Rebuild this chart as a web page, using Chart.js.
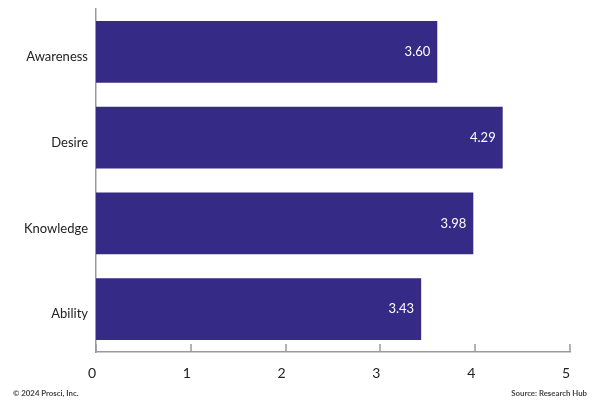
<!DOCTYPE html>
<html>
<head>
<meta charset="utf-8">
<script src="https://cdn.jsdelivr.net/npm/chart.js@4"></script>
<style>
  html, body { margin: 0; padding: 0; background: #fff; }
  #wrap { position: relative; width: 600px; height: 409px; }
</style>
</head>
<body>
<div id="wrap"><canvas id="chart" width="600" height="409"></canvas></div>
<script>
const CATEGORIES = ['Awareness', 'Desire', 'Knowledge', 'Ability'];
const SCORES = [3.60, 4.29, 3.98, 3.43];
const X_TICKS = [0, 1, 2, 3, 4, 5];

const BAR_COLOR = '#352a85';
const AXIS_COLOR = '#9a9a9a';
const FONT = 'Lato, "Open Sans", sans-serif';

const valueLabels = {
  id: 'valueLabels',
  afterDatasetsDraw(chart) {
    const ctx = chart.ctx;
    const meta = chart.getDatasetMeta(0);
    ctx.save();
    ctx.fillStyle = '#ffffff';
    ctx.font = `13px ${FONT}`;
    ctx.textAlign = 'right';
    ctx.textBaseline = 'middle';
    meta.data.forEach((bar, i) => {
      ctx.fillText(SCORES[i].toFixed(2), bar.x - 7, bar.y);
    });
    ctx.restore();
  },
};

const axisTicks = {
  id: 'axisTicks',
  afterDraw(chart) {
    const ctx = chart.ctx;
    const xScale = chart.scales.x;
    const bottom = chart.chartArea.bottom;
    ctx.save();
    ctx.strokeStyle = AXIS_COLOR;
    ctx.lineWidth = 1.5;
    X_TICKS.forEach(value => {
      const x = Math.round(xScale.getPixelForValue(value));
      ctx.beginPath();
      ctx.moveTo(x, bottom - 8);
      ctx.lineTo(x, bottom);
      ctx.stroke();
    });

    ctx.fillStyle = '#444';
    ctx.font = `bold 7.8px ${FONT}`;
    ctx.textBaseline = 'middle';
    ctx.textAlign = 'left';
    ctx.fillText('© 2024 Prosci, Inc.', 13, 393);
    ctx.textAlign = 'right';
    ctx.fillText('Source: Research Hub', 587, 393);
    ctx.restore();
  },
};

new Chart(document.getElementById('chart'), {
  type: 'bar',
  data: {
    labels: CATEGORIES,
    datasets: [{
      data: SCORES,
      backgroundColor: BAR_COLOR,
      borderWidth: 0,
      categoryPercentage: 1,
      barPercentage: 0.72,
    }],
  },
  options: {
    indexAxis: 'y',
    responsive: false,
    animation: false,
    layout: { padding: { top: 9, right: 30, bottom: 0, left: 0 } },
    plugins: { legend: { display: false }, tooltip: { enabled: false } },
    scales: {
      x: {
        min: 0,
        max: 5,
        afterBuildTicks: scale => { scale.ticks = X_TICKS.map(value => ({ value })); },
        afterFit: scale => { scale.height = 57; scale.paddingLeft = 0; scale.paddingRight = 0; },
        grid: { display: false, drawTicks: false },
        border: { display: true, color: AXIS_COLOR, width: 1.5 },
        ticks: { color: '#222', font: { family: FONT, size: 14 }, padding: 13, labelOffset: -4 },
      },
      y: {
        afterFit: scale => { scale.width = 96; scale.paddingTop = 0; scale.paddingBottom = 0; },
        grid: { display: false, drawTicks: false },
        border: { display: true, color: AXIS_COLOR, width: 1.5 },
        ticks: { color: '#222', font: { family: FONT, size: 13 }, padding: 8, labelOffset: 5 },
      },
    },
  },
  plugins: [valueLabels, axisTicks],
});
</script>
</body>
</html>
